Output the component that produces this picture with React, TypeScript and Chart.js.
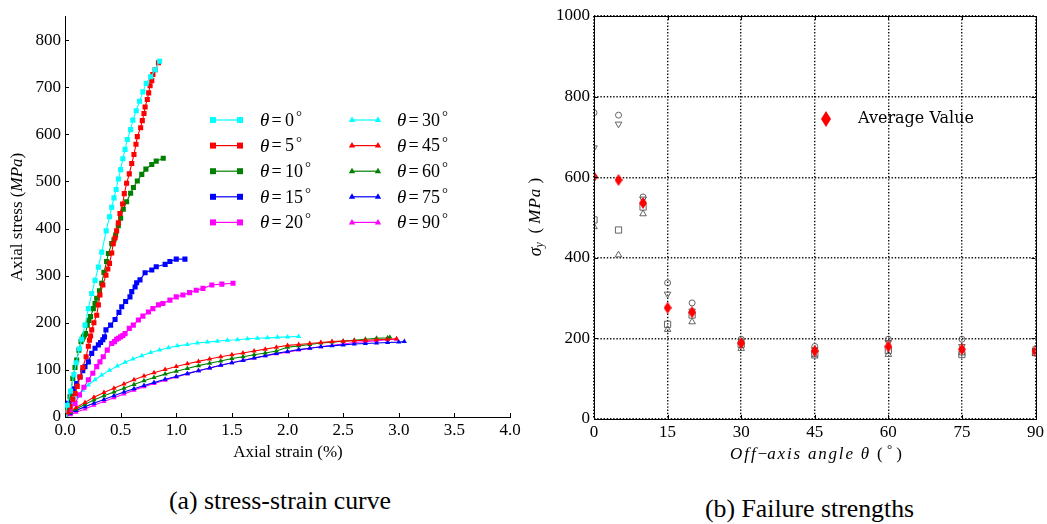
import React, { useEffect, useRef } from 'react';
import { Chart, registerables } from 'chart.js';

Chart.register(...registerables);

const SERIF = '"Liberation Serif", "Times New Roman", serif';
const DV_SERIF = '"DejaVu Serif", serif';

// ---------- (a) stress-strain curves ----------
const strainTicks = [0, 0.5, 1, 1.5, 2, 2.5, 3, 3.5, 4];
const stressTicks = [0, 100, 200, 300, 400, 500, 600, 700, 800];
const angleLabels = ['0', '5', '10', '15', '20', '30', '45', '60', '75', '90'];
const curveColors = ['#00ffff', '#ff0000', '#008000', '#0000ff', '#ff00ff', '#00ffff', '#ff0000', '#008000', '#0000ff', '#ff00ff'];
const curveMarkers = ['rect', 'rect', 'rect', 'rect', 'rect', 'triangle', 'triangle', 'triangle', 'triangle', 'triangle'];

const strain0 = [0, 0.02, 0.05, 0.08, 0.1, 0.13, 0.15, 0.18, 0.21, 0.24, 0.27, 0.3, 0.33, 0.37, 0.4, 0.42, 0.44, 0.46, 0.48, 0.5, 0.52, 0.54, 0.56, 0.59, 0.61, 0.64, 0.67, 0.7, 0.73, 0.77, 0.81, 0.85];
const stress0 = [0, 25, 55, 90, 115, 145, 165, 195, 230, 262, 290, 318, 350, 395, 425, 445, 465, 483, 505, 525, 548, 568, 589, 610, 630, 650, 670, 690, 708, 722, 737, 755];

const strain5 = [0, 0.02, 0.045, 0.07, 0.09, 0.11, 0.135, 0.16, 0.19, 0.21, 0.22, 0.23, 0.24, 0.26, 0.285, 0.3, 0.314, 0.34, 0.368, 0.385, 0.4, 0.42, 0.434, 0.45, 0.464, 0.48, 0.494, 0.518, 0.533, 0.554, 0.578, 0.6, 0.62, 0.638, 0.65, 0.68, 0.695, 0.71, 0.72, 0.74, 0.752, 0.765, 0.78, 0.79, 0.81, 0.84];
const stress5 = [0, 10, 22, 38, 50, 65, 85, 105, 128, 150, 163, 172, 185, 200, 216, 238, 259, 280, 301, 314, 326, 348, 368, 380, 395, 412, 432, 452, 474, 496, 516, 538, 557, 579, 595, 614, 629, 644, 658, 674, 688, 703, 714, 727, 737, 752];

const strain10 = [0, 0.02, 0.045, 0.07, 0.09, 0.105, 0.125, 0.144, 0.155, 0.165, 0.175, 0.185, 0.2, 0.215, 0.23, 0.255, 0.27, 0.285, 0.31, 0.33, 0.35, 0.374, 0.39, 0.42, 0.44, 0.455, 0.479, 0.5, 0.524, 0.554, 0.59, 0.615, 0.65, 0.69, 0.727, 0.78, 0.82, 0.883];
const stress10 = [0, 18, 43, 82, 105, 121, 142, 160, 165, 170, 174, 177, 195, 205, 213, 230, 241, 252, 268, 284, 307, 330, 347, 368, 376, 386, 406, 422, 441, 457, 475, 487, 501, 515, 526, 536, 543, 549];

const strain15 = [0, 0.03, 0.06, 0.08, 0.105, 0.135, 0.16, 0.18, 0.21, 0.24, 0.27, 0.3, 0.32, 0.34, 0.355, 0.368, 0.41, 0.45, 0.485, 0.51, 0.545, 0.584, 0.6, 0.63, 0.644, 0.674, 0.72, 0.78, 0.82, 0.9, 0.943, 1.0, 1.078];
const stress15 = [0, 29, 50, 60, 71, 85, 98, 107, 117, 135, 146, 153, 158, 164, 170, 185, 195, 207, 222, 234, 245, 255, 266, 276, 285, 291, 306, 312, 319, 324, 330, 335, 335];

const strain20 = [0, 0.045, 0.09, 0.13, 0.17, 0.21, 0.25, 0.285, 0.314, 0.344, 0.38, 0.42, 0.445, 0.464, 0.48, 0.5, 0.52, 0.54, 0.578, 0.614, 0.66, 0.7, 0.75, 0.79, 0.84, 0.88, 0.943, 1.0, 1.06, 1.12, 1.18, 1.24, 1.32, 1.41, 1.51];
const stress20 = [0, 15, 29, 47, 63, 79, 93, 107, 117, 128, 142, 156, 160, 165, 167, 170, 173, 177, 188, 195, 206, 214, 223, 230, 238, 241, 248, 255, 259, 264, 269, 273, 280, 282, 284];

const strain30 = [0, 0.03, 0.07, 0.11, 0.16, 0.21, 0.27, 0.33, 0.4, 0.47, 0.54, 0.61, 0.69, 0.77, 0.85, 0.93, 1.01, 1.1, 1.19, 1.28, 1.37, 1.46, 1.55, 1.64, 1.73, 1.82, 1.91, 2.0, 2.1];
const stress30 = [0, 15, 30, 44, 57, 68, 79, 89, 99, 108, 116, 123, 130, 137, 142, 147, 151, 154, 157, 159, 161, 163, 164, 166, 167, 168, 169, 170, 171];

const strain45 = [0, 0.05, 0.1, 0.18, 0.26, 0.35, 0.44, 0.53, 0.62, 0.71, 0.8, 0.9, 1.0, 1.1, 1.2, 1.3, 1.4, 1.5, 1.6, 1.7, 1.8, 1.9, 2.0, 2.1, 2.2, 2.3, 2.4, 2.5, 2.6, 2.7, 2.8, 2.9, 2.98];
const stress45 = [0, 12, 20, 31, 42, 52, 61, 70, 79, 87, 94, 101, 107, 113, 118, 123, 128, 132, 136, 140, 144, 148, 152, 154, 156, 158, 160, 161, 162, 163, 164, 165, 166];

const strain60 = [0, 0.05, 0.1, 0.18, 0.26, 0.35, 0.44, 0.53, 0.62, 0.71, 0.8, 0.9, 1.0, 1.1, 1.2, 1.3, 1.4, 1.5, 1.6, 1.7, 1.8, 1.9, 2.0, 2.1, 2.2, 2.3, 2.4, 2.5, 2.6, 2.7, 2.8, 2.9, 2.92];
const stress60 = [0, 10, 17, 27, 36, 45, 53, 61, 69, 77, 84, 91, 97, 103, 109, 114, 119, 124, 128, 132, 136, 140, 148, 151, 154, 157, 159, 161, 163, 165, 167, 168, 169];

const strain75 = [0, 0.05, 0.1, 0.18, 0.26, 0.35, 0.44, 0.53, 0.62, 0.71, 0.8, 0.9, 1.0, 1.1, 1.2, 1.3, 1.4, 1.5, 1.6, 1.7, 1.8, 1.9, 2.0, 2.1, 2.2, 2.3, 2.4, 2.5, 2.6, 2.7, 2.8, 2.9, 3.0, 3.05];
const stress75 = [0, 8, 14, 22, 29, 37, 45, 53, 60, 67, 73, 80, 86, 92, 98, 104, 110, 115, 120, 125, 130, 135, 139, 143, 146, 149, 151, 153, 155, 156, 157, 158, 159, 160];

const strain90 = [0, 0.05, 0.1, 0.18, 0.26, 0.35, 0.44, 0.53, 0.62, 0.71, 0.8, 0.9, 1.0, 1.1, 1.2, 1.3, 1.4, 1.5, 1.6, 1.7, 1.8, 1.9, 2.0, 2.1, 2.2, 2.3, 2.4, 2.5, 2.6, 2.7, 2.8, 2.9, 2.98];
const stress90 = [0, 5, 10, 17, 25, 33, 41, 49, 57, 64, 71, 78, 85, 92, 98, 104, 110, 115, 120, 125, 130, 134, 138, 142, 146, 149, 152, 155, 158, 160, 162, 164, 165];

const curveStrains = [strain0, strain5, strain10, strain15, strain20, strain30, strain45, strain60, strain75, strain90];
const curveStresses = [stress0, stress5, stress10, stress15, stress20, stress30, stress45, stress60, stress75, stress90];

// ---------- (b) failure strengths ----------
const angleTicks = [0, 15, 30, 45, 60, 75, 90];
const strengthTicks = [0, 200, 400, 600, 800, 1000];
const testAngles = [0, 5, 10, 15, 20, 30, 45, 60, 75, 90];
const circleVals = [760, 754, 551, 338, 288, 198, 180, 198, 198, 174];
const triDownVals = [673, 732, 546, 310, 268, 193, 172, 190, 180, 170];
const squareVals = [494, 469, 526, 235, 258, 185, 162, 170, 160, 165];
const triUpVals = [477, 407, 509, 222, 241, 175, 156, 160, 164, 162];
const averageVals = [601, 593, 536, 276, 265, 188, 169, 180, 173, 168];

type Seg = { t: string; font: string; dy?: number; ls?: number };

function segWidths(ctx: CanvasRenderingContext2D, segs: Seg[]) {
  return segs.map((s) => {
    ctx.font = s.font;
    (ctx as any).letterSpacing = (s.ls || 0) + 'px';
    return ctx.measureText(s.t).width;
  });
}

function drawSegs(ctx: CanvasRenderingContext2D, segs: Seg[], x: number, y: number, align: 'center' | 'left' = 'center') {
  const w = segWidths(ctx, segs);
  const total = w.reduce((a, b) => a + b, 0);
  let cx = align === 'center' ? x - total / 2 : x;
  ctx.textAlign = 'left';
  ctx.textBaseline = 'middle';
  segs.forEach((s, i) => {
    ctx.font = s.font;
    (ctx as any).letterSpacing = (s.ls || 0) + 'px';
    ctx.fillText(s.t, cx, y + (s.dy || 0));
    cx += w[i];
  });
  (ctx as any).letterSpacing = '0px';
}

function drawMarker(ctx: CanvasRenderingContext2D, style: string, x: number, y: number, color: string) {
  ctx.fillStyle = color;
  ctx.beginPath();
  if (style === 'rect') {
    ctx.rect(x - 3, y - 3, 6, 6);
  } else {
    ctx.moveTo(x, y - 3.5);
    ctx.lineTo(x + 3.2, y + 2);
    ctx.lineTo(x - 3.2, y + 2);
    ctx.closePath();
  }
  ctx.fill();
}

function makeDiamond(w: number, h: number, color: string) {
  const c = document.createElement('canvas');
  c.width = w;
  c.height = h;
  const g = c.getContext('2d')!;
  g.fillStyle = color;
  g.beginPath();
  g.moveTo(w / 2, 0);
  g.lineTo(w, h / 2);
  g.lineTo(w / 2, h);
  g.lineTo(0, h / 2);
  g.closePath();
  g.fill();
  return c;
}

let legendDiamondCache: HTMLCanvasElement | null = null;
function getLegendDiamond() {
  if (!legendDiamondCache) legendDiamondCache = makeDiamond(10, 16, '#ff0000');
  return legendDiamondCache;
}

const leftDecor = {
  id: 'leftDecor',
  afterDraw(chart: any) {
    const { ctx, chartArea: ca, scales } = chart;
    const xs = scales.x;
    const ys = scales.y;
    ctx.save();
    ctx.strokeStyle = '#000';
    ctx.lineWidth = 1;
    ctx.beginPath();
    strainTicks.forEach((v) => {
      const p = Math.round(xs.getPixelForValue(v)) + 0.5;
      ctx.moveTo(p, ca.bottom);
      ctx.lineTo(p, ca.bottom - 4);
    });
    stressTicks.forEach((v) => {
      const p = Math.round(ys.getPixelForValue(v)) + 0.5;
      ctx.moveTo(ca.left, p);
      ctx.lineTo(ca.left + 4, p);
    });
    ctx.stroke();

    ctx.fillStyle = '#000';
    drawSegs(ctx, [{ t: 'Axial strain (%)', font: `17px ${SERIF}` }], 288, 453);
    ctx.save();
    ctx.translate(18, 217);
    ctx.rotate(-Math.PI / 2);
    drawSegs(ctx, [
      { t: 'Axial stress (', font: `17px ${SERIF}` },
      { t: 'MPa', font: `italic 17px ${SERIF}` },
      { t: ')', font: `17px ${SERIF}` },
    ], 0, 0);
    ctx.restore();

    const rowY = [120, 145.6, 171.2, 196.8, 222.4];
    for (let i = 0; i < 10; i++) {
      const col = i < 5 ? 0 : 1;
      const r = i % 5;
      const y = rowY[r];
      const x1 = col === 0 ? 213 : 352;
      const x2 = col === 0 ? 240 : 378;
      const tx = col === 0 ? 260 : 397;
      ctx.strokeStyle = curveColors[i];
      ctx.lineWidth = 1.2;
      ctx.beginPath();
      ctx.moveTo(x1, y);
      ctx.lineTo(x2, y);
      ctx.stroke();
      drawMarker(ctx, curveMarkers[i], x1, y, curveColors[i]);
      drawMarker(ctx, curveMarkers[i], x2, y, curveColors[i]);
      ctx.fillStyle = '#000';
      ctx.textAlign = 'left';
      ctx.textBaseline = 'middle';
      ctx.font = `italic 19px ${SERIF}`;
      ctx.fillText('θ', tx, y + 1);
      ctx.font = `18px ${SERIF}`;
      ctx.fillText('=', tx + 11.5, y + 1);
      ctx.fillText(angleLabels[i], tx + 25, y + 1);
      const nw = ctx.measureText(angleLabels[i]).width;
      ctx.font = `15px ${SERIF}`;
      ctx.fillText('°', tx + 25 + nw + 2, y - 3);
    }
    ctx.restore();
  },
};

const rightDecor = {
  id: 'rightDecor',
  afterDraw(chart: any) {
    const { ctx, chartArea: ca, scales } = chart;
    const xs = scales.x;
    const ys = scales.y;
    ctx.save();
    ctx.strokeStyle = '#000';
    ctx.lineWidth = 1;
    ctx.strokeRect(Math.round(ca.left) + 0.5, Math.round(ca.top) + 0.5, Math.round(ca.right - ca.left), Math.round(ca.bottom - ca.top));
    ctx.beginPath();
    angleTicks.forEach((v) => {
      const p = Math.round(xs.getPixelForValue(v)) + 0.5;
      ctx.moveTo(p, ca.bottom);
      ctx.lineTo(p, ca.bottom - 4);
      ctx.moveTo(p, ca.top);
      ctx.lineTo(p, ca.top + 4);
    });
    strengthTicks.forEach((v) => {
      const p = Math.round(ys.getPixelForValue(v)) + 0.5;
      ctx.moveTo(ca.left, p);
      ctx.lineTo(ca.left + 4, p);
      ctx.moveTo(ca.right, p);
      ctx.lineTo(ca.right - 4, p);
    });
    ctx.stroke();

    ctx.fillStyle = '#000';
    drawSegs(ctx, [
      { t: 'Off', font: `italic 17px ${SERIF}`, ls: 2 },
      { t: '−', font: `17px ${SERIF}` },
      { t: 'axis angle θ ', font: `italic 17px ${SERIF}`, ls: 1.8 },
      { t: '( ', font: `17px ${SERIF}` },
      { t: '°', font: `13px ${SERIF}`, dy: -5 },
      { t: ' )', font: `17px ${SERIF}` },
    ], 296, 455);
    ctx.save();
    ctx.translate(16, 217);
    ctx.rotate(-Math.PI / 2);
    drawSegs(ctx, [
      { t: 'σ', font: `italic 18px ${SERIF}` },
      { t: 'y', font: `italic 12px ${SERIF}`, dy: 4 },
      { t: '  ( ', font: `17px ${SERIF}` },
      { t: 'MPa', font: `italic 17px ${SERIF}`, ls: 1 },
      { t: ' )', font: `17px ${SERIF}` },
    ], 0, 0);
    ctx.restore();

    ctx.drawImage(getLegendDiamond(), 306 - 5, 119 - 8);
    ctx.fillStyle = '#000';
    drawSegs(ctx, [{ t: 'Average Value', font: `16px ${DV_SERIF}` }], 338, 119, 'left');
    ctx.restore();
  },
};

function LeftChart() {
  const ref = useRef<HTMLCanvasElement>(null);
  useEffect(() => {
    const datasets = curveStrains.map((xs, i) => ({
      label: 'θ=' + angleLabels[i] + '°',
      data: xs.map((x, j) => ({ x, y: curveStresses[i][j] })),
      borderColor: curveColors[i],
      backgroundColor: curveColors[i],
      borderWidth: 1.1,
      pointStyle: curveMarkers[i],
      pointRadius: curveMarkers[i] === 'rect' ? 3.6 : 3,
      pointBorderWidth: 0,
      tension: 0,
      fill: false,
    }));
    const chart = new Chart(ref.current!, {
      type: 'line',
      data: { datasets } as any,
      options: {
        animation: false,
        responsive: false,
        events: [],
        layout: { padding: { top: 16.5, right: 30, left: 0, bottom: 0 } },
        plugins: { legend: { display: false }, tooltip: { enabled: false } },
        scales: {
          x: {
            type: 'linear',
            min: 0,
            max: 4,
            afterBuildTicks: (s: any) => { s.ticks = strainTicks.map((v) => ({ value: v })); },
            afterFit: (s: any) => { s.height = 53; },
            grid: { display: false, drawTicks: false },
            border: { display: true, color: '#000', width: 1 },
            ticks: { color: '#000', padding: 3, maxRotation: 0, font: { family: SERIF, size: 17 }, callback: (v: any) => Number(v).toFixed(1) },
          },
          y: {
            type: 'linear',
            min: 0,
            max: 850,
            afterBuildTicks: (s: any) => { s.ticks = stressTicks.map((v) => ({ value: v })); },
            afterFit: (s: any) => { s.width = 65; },
            grid: { display: false, drawTicks: false },
            border: { display: true, color: '#000', width: 1 },
            ticks: { color: '#000', padding: 4, font: { family: SERIF, size: 17 }, callback: (v: any) => String(v) },
          },
        },
      } as any,
      plugins: [leftDecor],
    });
    return () => chart.destroy();
  }, []);
  return <canvas ref={ref} width={540} height={470} style={{ position: 'absolute', left: 0, top: 0, width: 540, height: 470 }} />;
}

function RightChart() {
  const ref = useRef<HTMLCanvasElement>(null);
  useEffect(() => {
    const dataDiamond = makeDiamond(8, 12, '#ff0000');
    const gray = '#555555';
    const mk = (vals: number[]) => testAngles.map((a, i) => ({ x: a, y: vals[i] }));
    const datasets = [
      { label: 'Average Value', data: mk(averageVals), pointStyle: dataDiamond, pointRadius: 6, showLine: false, clip: 0 },
      { label: 'c', data: mk(circleVals), pointStyle: 'circle', pointRadius: 3, borderColor: gray, backgroundColor: 'rgba(0,0,0,0)', pointBorderWidth: 0.9, showLine: false, clip: 0 },
      { label: 'v', data: mk(triDownVals), pointStyle: 'triangle', rotation: 180, pointRadius: 3.8, borderColor: gray, backgroundColor: 'rgba(0,0,0,0)', pointBorderWidth: 0.9, showLine: false, clip: 0 },
      { label: 's', data: mk(squareVals), pointStyle: 'rect', pointRadius: 4.4, borderColor: gray, backgroundColor: 'rgba(0,0,0,0)', pointBorderWidth: 0.9, showLine: false, clip: 0 },
      { label: '^', data: mk(triUpVals), pointStyle: 'triangle', pointRadius: 3.8, borderColor: gray, backgroundColor: 'rgba(0,0,0,0)', pointBorderWidth: 0.9, showLine: false, clip: 0 },
    ];
    const chart: any = new Chart(ref.current!, {
      type: 'scatter',
      data: { datasets } as any,
      options: {
        animation: false,
        responsive: false,
        events: [],
        layout: { padding: { top: 16, right: 8, left: 0, bottom: 0 } },
        plugins: { legend: { display: false }, tooltip: { enabled: false } },
        scales: {
          x: {
            type: 'linear',
            min: 0,
            max: 90,
            afterBuildTicks: (s: any) => { s.ticks = angleTicks.map((v) => ({ value: v })); },
            afterFit: (s: any) => { s.height = 51; },
            grid: { display: true, drawTicks: false, color: '#111', lineWidth: 1.4 },
            border: { display: false, dash: [1.4, 1.8] },
            ticks: { color: '#000', padding: 3, maxRotation: 0, font: { family: SERIF, size: 17 }, callback: (v: any) => String(v) },
          },
          y: {
            type: 'linear',
            min: 0,
            max: 1000,
            afterBuildTicks: (s: any) => { s.ticks = strengthTicks.map((v) => ({ value: v })); },
            afterFit: (s: any) => { s.width = 74; },
            grid: { display: true, drawTicks: false, color: '#111', lineWidth: 1.4 },
            border: { display: false, dash: [1.4, 1.8] },
            ticks: { color: '#000', padding: 4, font: { family: SERIF, size: 17 }, callback: (v: any) => String(v) },
          },
        },
      } as any,
      plugins: [rightDecor],
    });
    return () => chart.destroy();
  }, []);
  return <canvas ref={ref} width={527} height={470} style={{ position: 'absolute', left: 520, top: 0, width: 527, height: 470 }} />;
}

export default function App() {
  const cap: React.CSSProperties = { position: 'absolute', width: 400, textAlign: 'center', fontFamily: SERIF, fontSize: 25.8, lineHeight: '26px', color: '#000', whiteSpace: 'nowrap' };
  return (
    <div style={{ position: 'fixed', left: 0, top: 0, width: 1047, height: 524, background: '#fff', overflow: 'hidden' }}>
      <LeftChart />
      <RightChart />
      <div style={{ ...cap, left: 280 - 200, top: 488 }}>(a) stress-strain curve</div>
      <div style={{ ...cap, left: 809.5 - 200, top: 496 }}>(b) Failure strengths</div>
    </div>
  );
}
